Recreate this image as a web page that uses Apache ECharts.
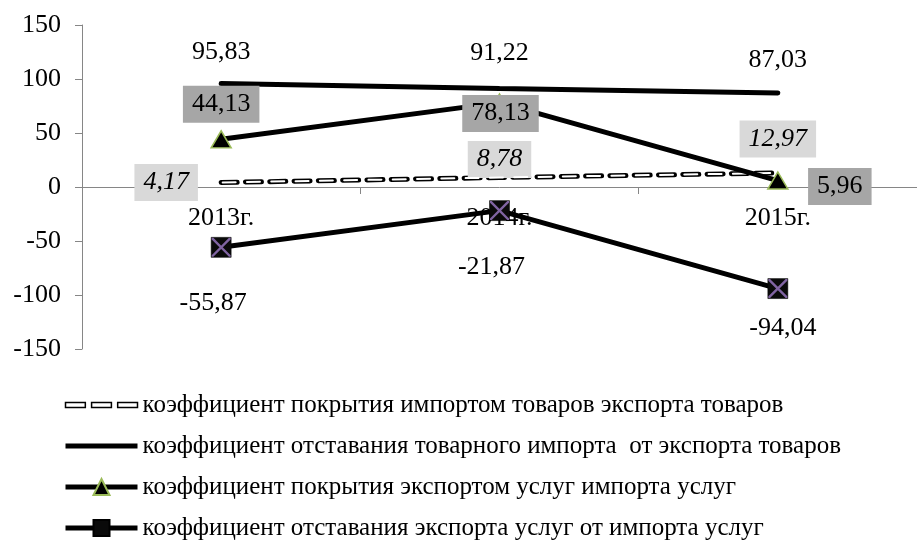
<!DOCTYPE html>
<html>
<head>
<meta charset="utf-8">
<script src="https://cdn.jsdelivr.net/npm/echarts@6/dist/echarts.min.js"></script>
<style>html,body{margin:0;padding:0;background:#fff}#c{width:917px;height:552px}</style>
</head>
<body>
<div id="c"></div>
<script>
const categories = ['2013г.', '2014г.', '2015г.'];
const names = [
  'коэффициент покрытия импортом товаров экспорта товаров',
  'коэффициент отставания товарного импорта  от экспорта товаров',
  'коэффициент покрытия экспортом услуг импорта услуг',
  'коэффициент отставания экспорта услуг от импорта услуг'
];
const s1 = [4.17, 8.78, 12.97];
const s2 = [95.83, 91.22, 87.03];
const s3 = [44.13, 78.13, 5.96];
const s4 = [-55.87, -21.87, -94.04];
const yTicks = { min: -150, max: 150, interval: 50 };

// label offsets (style only)
const off1 = [[-55, 0], [0, -18], [0, -34]];
const off2 = [[0, -31], [0, -35], [0, -33]];
const off3 = [[0, -35], [1, 11], [62, 6]];
const off4 = [[-8, 56], [-8, 57], [5, 40]];

const fmt = v => String(v.toFixed(2)).replace('.', ',');
const font = 'Liberation Serif';
const FS = 26;

function withLabels(vals, offs, extra) {
  return vals.map((v, i) => ({
    value: v,
    label: Object.assign({ offset: offs[i] }, extra || {})
  }));
}

const baseLabel = {
  show: true, position: 'inside', fontFamily: font, fontSize: FS, color: '#000',
  formatter: p => fmt(p.value)
};

const chart = echarts.init(document.getElementById('c'));
chart.setOption({
  animation: false,
  grid: { left: 82, top: 25, height: 324, width: 842 },
  xAxis: {
    type: 'category', data: categories, boundaryGap: true,
    axisLine: { onZero: true, lineStyle: { color: '#868686', width: 1 } },
    axisTick: { show: true, length: 7, lineStyle: { color: '#868686' } },
    axisLabel: { fontFamily: font, fontSize: FS, color: '#000', margin: -144 },
    splitLine: { show: false }
  },
  yAxis: {
    type: 'value', min: yTicks.min, max: yTicks.max, interval: yTicks.interval,
    axisLine: { show: true, lineStyle: { color: '#868686', width: 1 } },
    axisTick: { show: true, length: 7, lineStyle: { color: '#868686' } },
    axisLabel: { fontFamily: font, fontSize: FS, color: '#000', margin: 21 },
    splitLine: { show: false }
  },
  legend: {
    orient: 'vertical', left: 63, top: 391, padding: 0,
    itemWidth: 72, itemHeight: 20, itemGap: 13,
    lineStyle: { width: 5 },
    textStyle: { fontFamily: font, fontSize: 25, color: '#000', lineHeight: 28 },
    data: [
      { name: names[0], icon: 'path://M0,0h19v5h-19z M25,0h19v5h-19z M50,0h19v5h-19z',
        itemStyle: { color: '#fff', borderColor: '#000', borderWidth: 1.5 } },
      { name: names[1], icon: 'path://M0,0h72v5h-72z' },
      { name: names[2] },
      { name: names[3] }
    ]
  },
  series: [
    {
      name: names[0], type: 'line', symbol: 'circle', symbolSize: 1,
      itemStyle: { color: '#000' },
      lineStyle: { color: '#000', width: 5, type: [16, 8.3], cap: 'round' },
      data: withLabels(s1, off1),
      label: Object.assign({}, baseLabel, {
        fontStyle: 'italic', backgroundColor: '#d9d9d9', padding: [6, 9, 5, 9]
      }),
      z: 3
    },
    {
      name: 'dash-fill', type: 'line', symbol: 'none', silent: true,
      lineStyle: { color: '#fff', width: 2, type: [13, 11.3], dashOffset: -1.5, cap: 'round' },
      data: s1, z: 4
    },
    {
      name: names[1], type: 'line', symbol: 'circle', symbolSize: 1,
      itemStyle: { color: '#000' },
      lineStyle: { color: '#000', width: 5, cap: 'round' },
      data: withLabels(s2, off2),
      label: baseLabel, z: 3
    },
    {
      name: names[2], type: 'line', symbol: 'triangle', symbolSize: [20, 17],
      itemStyle: { color: '#000', borderColor: '#9bbb59', borderWidth: 1.5 },
      lineStyle: { color: '#000', width: 5 },
      data: withLabels(s3, off3),
      label: Object.assign({}, baseLabel, {
        backgroundColor: '#a6a6a6', padding: [6, 9, 5, 9]
      }), z: 5
    },
    {
      name: names[3], type: 'line', symbol: 'rect', symbolSize: 20,
      itemStyle: { color: '#0a0a0a', borderColor: '#000', borderWidth: 0.5 },
      lineStyle: { color: '#000', width: 5 },
      data: withLabels(s4, off4),
      label: baseLabel, z: 5
    },
    {
      name: 'x-mark', type: 'line', silent: true,
      symbol: 'path://M0,0 L0.9,0 L10,9.1 L10,10 L9.1,10 L0,0.9Z M10,0 L10,0.9 L0.9,10 L0,10 L0,9.1 L9.1,0Z',
      symbolSize: 19, showAllSymbol: true,
      itemStyle: { color: '#8064a2' },
      lineStyle: { opacity: 0, width: 0 },
      data: s4, z: 6
    }
  ]
});
</script>
</body>
</html>
